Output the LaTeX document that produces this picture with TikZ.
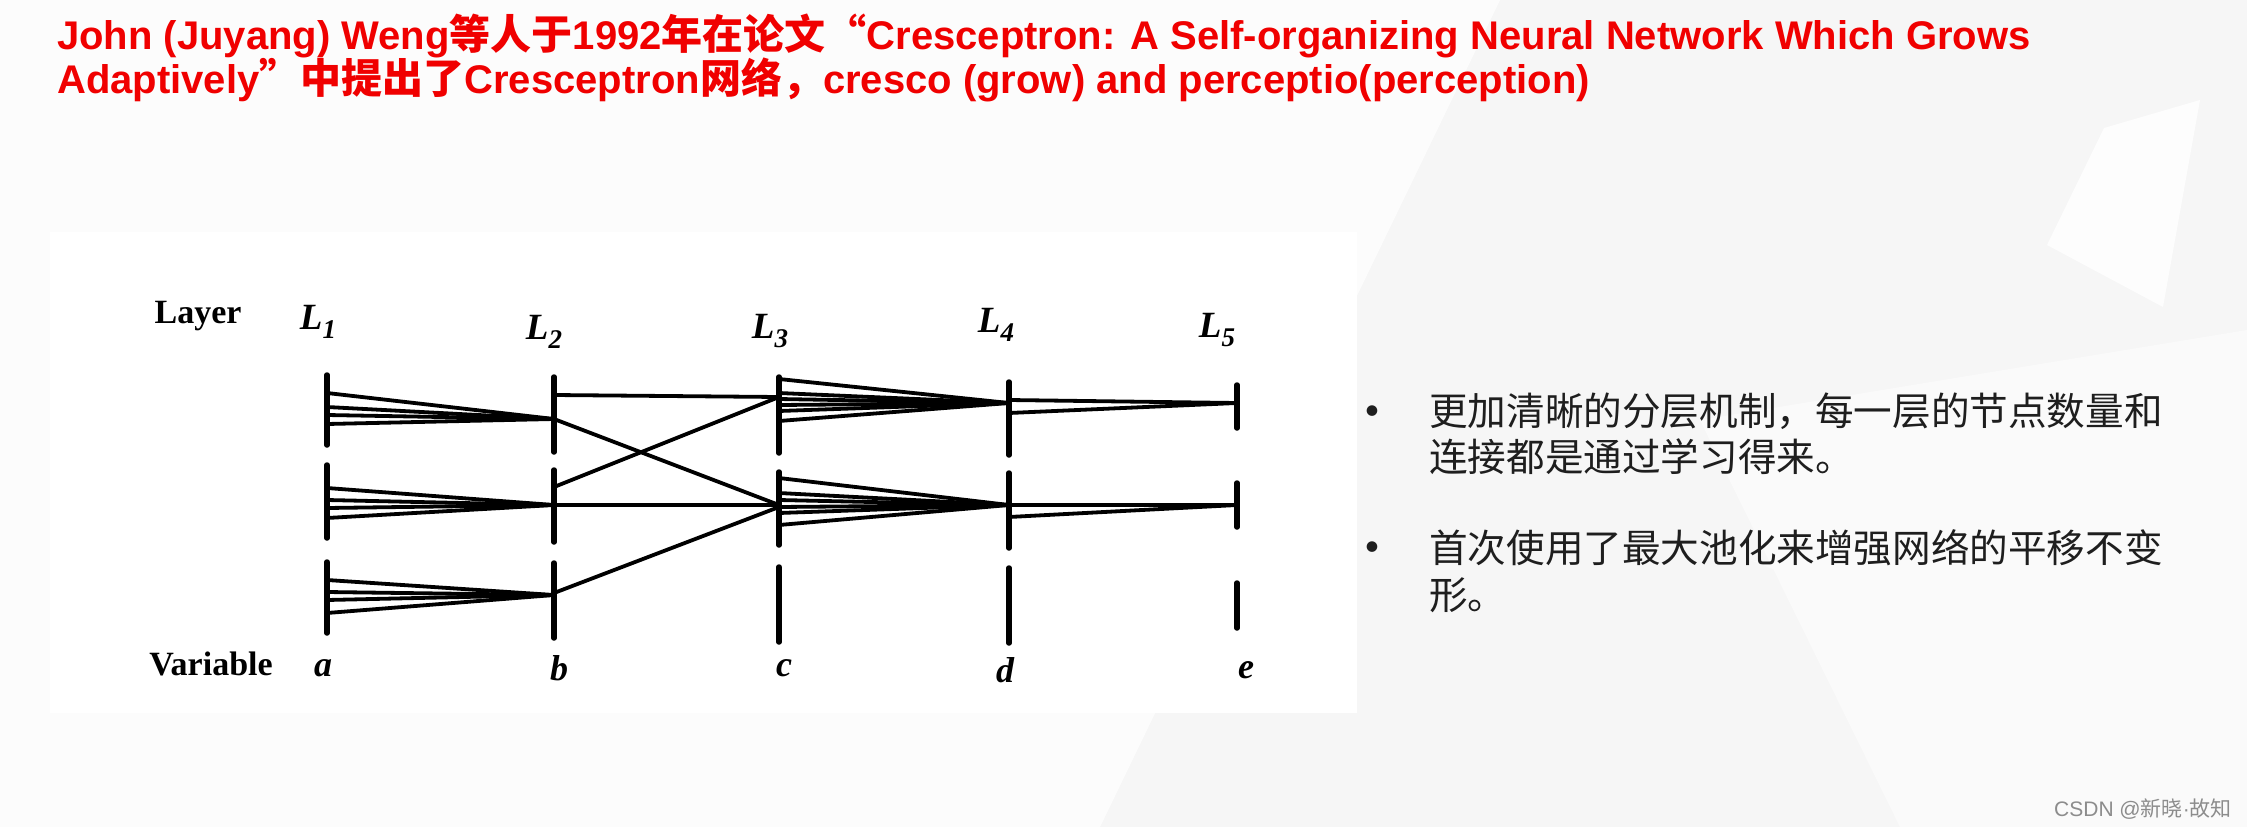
\documentclass[tikz,border=0pt]{standalone}
\usepackage{fontspec}
\setmainfont{Liberation Sans}
\newfontfamily\cjk{Noto Sans CJK SC}
\newfontfamily\tnr{Liberation Serif}
\newfontfamily\lsans{Liberation Sans}
\newfontfamily\bulletfont{Carlito}
\newcommand{\zh}[1]{{\cjk\fontsize{41}{44}\selectfont #1}}
\newcommand{\Lsub}[1]{{\tnr\bfseries\itshape\fontsize{37}{37}\selectfont L\raisebox{-9pt}{\fontsize{27}{27}\selectfont #1}}}
\definecolor{titlered}{HTML}{F00000}
\definecolor{bodytext}{HTML}{1E1E1E}
\definecolor{bgbase}{HTML}{F6F6F6}
\definecolor{wmgray}{HTML}{8C8C8C}
\begin{document}
\begin{tikzpicture}[x=1pt,y=-1pt,
  bar/.style={line width=5.5pt,line cap=round},
  link/.style={line width=3.8pt},
  title/.style={anchor=base west,inner sep=0,text=titlered,font=\bfseries\fontsize{40}{44}\selectfont},
  body/.style={anchor=base west,inner sep=0,text=bodytext,font=\cjk\fontsize{38.6}{46}\selectfont},
  bullet/.style={inner sep=0,text=bodytext,font=\bulletfont\fontsize{30}{30}\selectfont},
  word/.style={inner sep=0,font=\tnr\bfseries\fontsize{34}{34}\selectfont},
  layerlab/.style={inner sep=0},
  varlab/.style={inner sep=0,font=\tnr\bfseries\itshape\fontsize{36}{36}\selectfont}]
\useasboundingbox (0,0) rectangle (2247,827);
% background
\fill[bgbase] (0,0) rectangle (2247,827);
\fill[white,opacity=0.75] (0,0) -- (1500,0) -- (1100,827) -- (0,827) -- cycle;
\fill[white,opacity=0.8] (2104,128) -- (2200,100) -- (2163,307) -- (2047,245) -- cycle;
\fill[white,opacity=0.5] (1700,420) -- (2247,330) -- (2247,827) -- (1900,827) -- cycle;
\fill[black!2] (1750,560) -- (2020,600) -- (2130,660) -- (1900,620) -- cycle;
% figure panel
\fill[white] (50,232) rectangle (1357,713);

% title
\node[title] (t1) at (57,49) {John (Juyang) Weng\zh{等人于}1992\zh{年在论文“}Cresceptron: A Self-organizing Neural Network Which Grows};
\node[title] (t2) at (57,93) {Adaptively\zh{”中提出了}Cresceptron\zh{网络，}cresco (grow) and perceptio(perception)};

% labels
\node[word] (layer) at (198,316) {Layer};
\node[word] (variable) at (211,664) {Variable};
\node[layerlab] (L1) at (318,322) {\Lsub{1}};
\node[layerlab] (L2) at (544,332) {\Lsub{2}};
\node[layerlab] (L3) at (770,331) {\Lsub{3}};
\node[layerlab] (L4) at (996,325) {\Lsub{4}};
\node[layerlab] (L5) at (1217,330) {\Lsub{5}};
\node[varlab] (va) at (323,668) {a};
\node[varlab] (vb) at (559,668) {b};
\node[varlab] (vc) at (784,668) {c};
\node[varlab] (vd) at (1005,670) {d};
\node[varlab] (ve) at (1246,670) {e};

% bars
\foreach \n/\x/\ya/\yb/\yc/\yd/\ye/\yf in {a/327/375/445/465/538/562/633, b/554/377/452/470/542/563/638, c/779/377/453/472/545/567/642, d/1009/382/455/473/548/568/643, e/1237/385/428/483/527/583/628}{
  \coordinate (\n1t) at (\x,\ya); \coordinate (\n1b) at (\x,\yb);
  \coordinate (\n2t) at (\x,\yc); \coordinate (\n2b) at (\x,\yd);
  \coordinate (\n3t) at (\x,\ye); \coordinate (\n3b) at (\x,\yf);
  \draw[bar] (\n1t) -- (\n1b);
  \draw[bar] (\n2t) -- (\n2b);
  \draw[bar] (\n3t) -- (\n3b);
}
% convergence points
\coordinate (b1in) at (554,419);
\coordinate (b2in) at (554,505);
\coordinate (b3in) at (554,595);
\coordinate (c1in) at (779,397);
\coordinate (c2in) at (779,505);
\coordinate (d1in) at (1009,403);
\coordinate (d2in) at (1009,505);
\coordinate (e1in) at (1237,403);
\coordinate (e2in) at (1237,505);

% fans a -> b
\foreach \y [count=\i] in {393,407,415,424}{\coordinate (fa1\i) at (327,\y); \draw[link] (fa1\i) -- (b1in);}
\foreach \y [count=\i] in {488,500,508,518}{\coordinate (fa2\i) at (327,\y); \draw[link] (fa2\i) -- (b2in);}
\foreach \y [count=\i] in {580,592,600,613}{\coordinate (fa3\i) at (327,\y); \draw[link] (fa3\i) -- (b3in);}
% b -> c
\coordinate (bo1) at (554,395);
\coordinate (bo2) at (554,487);
\coordinate (bo3) at (554,593);
\coordinate (c2low) at (779,507);
\draw[link] (bo1) -- (c1in);
\draw[link] (b1in) -- (c2in);
\draw[link] (bo2) -- (c1in);
\draw[link] (b2in) -- (c2in);
\draw[link] (bo3) -- (c2low);
% fans c -> d
\foreach \y [count=\i] in {379,393,399,405,411,421}{\coordinate (fc1\i) at (779,\y); \draw[link] (fc1\i) -- (d1in);}
\foreach \y [count=\i] in {478,493,500,507,513,525}{\coordinate (fc2\i) at (779,\y); \draw[link] (fc2\i) -- (d2in);}
% d -> e
\coordinate (do1) at (1009,400);
\coordinate (do2) at (1009,413);
\coordinate (do3) at (1009,517);
\draw[link] (do1) -- (e1in);
\draw[link] (do2) -- (e1in);
\draw[link] (d2in) -- (e2in);
\draw[link] (do3) -- (e2in);

% right text
\node[bullet] (b1) at (1372,413) {•};
\node[body] (p1a) at (1429,425) {更加清晰的分层机制，每一层的节点数量和};
\node[body] (p1b) at (1429,471) {连接都是通过学习得来。};
\node[bullet] (b2) at (1372,549) {•};
\node[body] (p2a) at (1429,562) {首次使用了最大池化来增强网络的平移不变};
\node[body] (p2b) at (1429,609) {形。};

% watermark
\node[anchor=base east,inner sep=0,text=wmgray,font=\lsans\fontsize{21}{21}\selectfont] (wm) at (2232,816) {CSDN @{\cjk 新晓}·{\cjk 故知}};
\end{tikzpicture}
\end{document}
